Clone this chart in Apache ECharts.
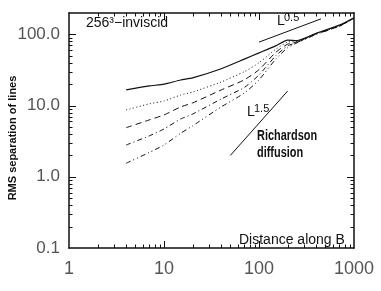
<!DOCTYPE html>
<html><head><meta charset="utf-8">
<script src="https://cdn.jsdelivr.net/npm/echarts@6/dist/echarts.min.js"></script>
<style>html,body{margin:0;padding:0;background:#fff}#c{width:381px;height:291px}</style>
</head><body><div id="c"></div>
<script>
const xs = [4, 7, 10, 15, 20, 40, 70, 100, 150, 200, 250, 400, 700, 1000];
const solid = [16.6, 18.9, 20, 22.9, 24.5, 33, 45, 55, 69, 83, 82, 104, 135, 172];
const dotted = [8.7, 10.6, 11.6, 14.1, 15.5, 21.5, 30, 40, 62, 78, 80, 103, 133, 170];
const dashed = [4.9, 6.3, 7.4, 9.6, 10.9, 16.6, 23, 32, 56, 73, 78, 102, 132, 169];
const dashDot = [2.8, 3.76, 4.7, 6.5, 7.6, 12.4, 18, 27, 50, 69, 77, 101, 131, 168];
const dashDotDot = [1.55, 2.2, 2.8, 4.1, 5.2, 9.6, 15, 23, 45, 65, 76, 100, 130, 167];
const halfX = [100, 450];
const halfY = [78, 165.5];
const richX = [50, 200];
const richY = [2.0, 16];
const majorX = [10, 100];
const majorY = [1, 10, 100];
const minorX = [2,3,4,5,6,7,8,9,20,30,40,50,60,70,80,90,200,300,400,500,600,700,800,900];
const minorY = [0.2,0.3,0.4,0.5,0.6,0.7,0.8,0.9,2,3,4,5,6,7,8,9,20,30,40,50,60,70,80,90];
const xMin = 1, xMax = 1000, yMin = 0.1, yMax = 200;

const zip = (a, b) => a.map((v, i) => [v, b[i]]);
const ink = '#111';
function isPow10(v){ const l = Math.log10(v); return Math.abs(l - Math.round(l)) < 1e-9; }

function lineSeries(ys, type, w){
  return { type:'line', data: zip(xs, ys), showSymbol:false, symbol:'none', smooth:0.2,
    lineStyle:{ color: ink, width: w || 1, type: type }, z: 3, silent:true };
}
function tickSeries(vals, isX, L){
  return { type:'custom', coordinateSystem:'cartesian2d', silent:true, z: 4, clip:false,
    data: vals.map(v => isX ? [v, 1] : [1, v]),
    renderItem: function(params, api){
      const cs = params.coordSys;
      const p = api.coord([api.value(0), api.value(1)]);
      const st = { stroke: ink, lineWidth: 1 };
      if (isX) {
        const x = Math.round(p[0]) + 0.5;
        return { type:'group', children:[
          { type:'line', shape:{ x1:x, y1:cs.y+cs.height, x2:x, y2:cs.y+cs.height-L }, style: st },
          { type:'line', shape:{ x1:x, y1:cs.y, x2:x, y2:cs.y+L }, style: st }
        ]};
      }
      const y = Math.round(p[1]) + 0.5;
      return { type:'group', children:[
        { type:'line', shape:{ x1:cs.x, y1:y, x2:cs.x+L, y2:y }, style: st },
        { type:'line', shape:{ x1:cs.x+cs.width, y1:y, x2:cs.x+cs.width-L, y2:y }, style: st }
      ]};
    }
  };
}

const axisLine = { show:true, lineStyle:{ color: ink, width: 1.5 } };
const noTick = { show:false };

const chart = echarts.init(document.getElementById('c'), null, { renderer:'canvas' });
chart.setOption({
  animation:false,
  backgroundColor:'#fff',
  grid:{ left:69, top:13, right:27, bottom:43, containLabel:false },
  xAxis:[
    { type:'log', logBase:10, min:xMin, max:xMax, position:'bottom',
      axisLine: axisLine, axisTick: noTick, splitLine:{ show:false },
      axisLabel:{ show:true, margin:12, fontSize:18, color:'#555', fontFamily:'Liberation Sans',
        formatter: v => isPow10(v) ? String(Math.round(v)) : '' } },
    { type:'log', logBase:10, min:xMin, max:xMax, position:'top',
      axisLine: axisLine, axisTick: noTick, splitLine:{ show:false }, axisLabel:{ show:false } }
  ],
  yAxis:[
    { type:'log', logBase:10, min:yMin, max:yMax, position:'left',
      axisLine: axisLine, axisTick: noTick, splitLine:{ show:false },
      axisLabel:{ show:true, margin:9, fontSize:17, color:'#555', fontFamily:'Liberation Sans',
        formatter: v => isPow10(v) ? Number(v).toFixed(1) : '' } },
    { type:'log', logBase:10, min:yMin, max:yMax, position:'right',
      axisLine: axisLine, axisTick: noTick, splitLine:{ show:false }, axisLabel:{ show:false } }
  ],
  series:[
    lineSeries(solid, 'solid', 1.2),
    lineSeries(dotted, [1, 2.5], 1),
    lineSeries(dashed, [6, 4], 1),
    lineSeries(dashDot, [5, 3, 1, 3], 1),
    lineSeries(dashDotDot, [5, 3, 1, 3, 1, 3], 1),
    { type:'line', data: zip(halfX, halfY), symbol:'none', smooth:false, silent:true,
      lineStyle:{ color: ink, width: 1 }, z: 3 },
    { type:'line', data: zip(richX, richY), symbol:'none', smooth:false, silent:true,
      lineStyle:{ color: ink, width: 1 }, z: 3 },
    tickSeries(minorX, true, 3.5),
    tickSeries(minorY, false, 3.5),
    tickSeries(majorX, true, 7),
    tickSeries(majorY, false, 7)
  ],
  graphic:[
    { type:'text', left:86, top:16, style:{ text:'256³−inviscid', font:'14px "Liberation Sans"', fill: ink } },
    { type:'text', left:277, top:14, style:{ text:'L', font:'14px "Liberation Sans"', fill: ink } },
    { type:'text', left:284, top:12, style:{ text:'0.5', font:'11px "Liberation Sans"', fill: ink } },
    { type:'text', left:247, top:105, style:{ text:'L', font:'14px "Liberation Sans"', fill: ink } },
    { type:'text', left:254, top:103, style:{ text:'1.5', font:'11px "Liberation Sans"', fill: ink } },
    { type:'text', x:257, y:129, scaleX:0.78, style:{ text:'Richardson', font:'bold 14px "Liberation Sans"', fill: ink } },
    { type:'text', x:257, y:146, scaleX:0.78, style:{ text:'diffusion', font:'bold 14px "Liberation Sans"', fill: ink } },
    { type:'text', left:239, top:233, style:{ text:'Distance along B', font:'14px "Liberation Sans"', fill: ink } },
    { type:'text', x:13, y:138, rotation:Math.PI/2, style:{ text:'RMS separation of lines', font:'bold 11px "Liberation Sans"', fill: ink, align:'center', verticalAlign:'middle' } }
  ]
});
</script></body></html>
